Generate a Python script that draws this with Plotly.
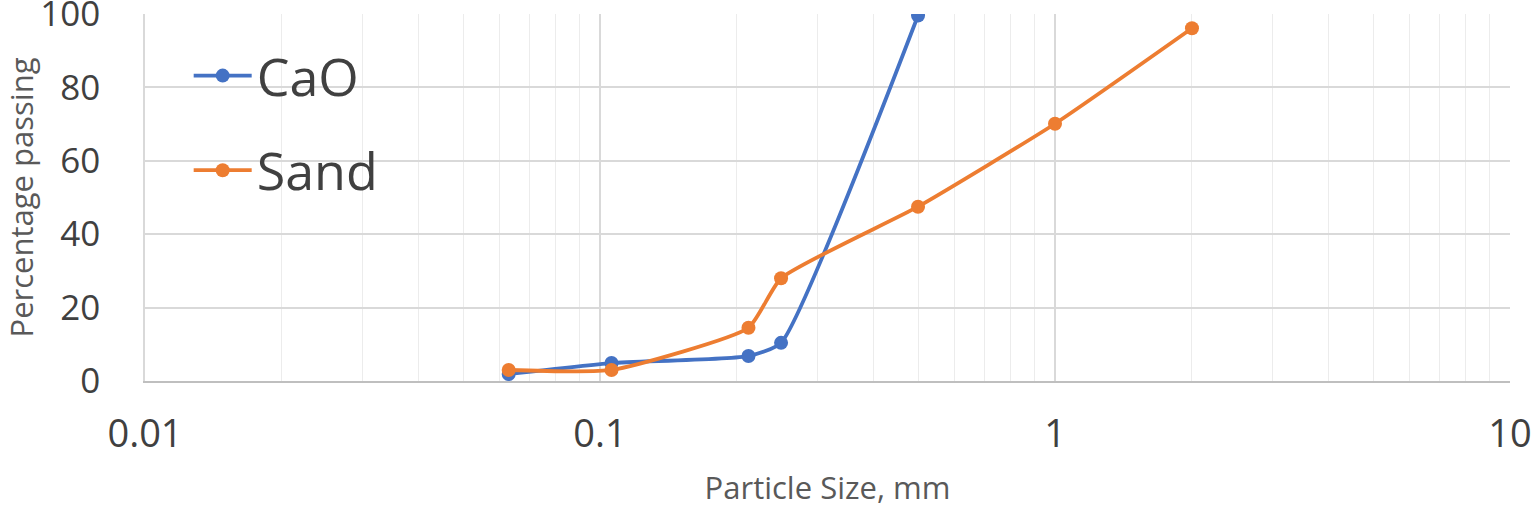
import plotly.graph_objects as go

# Data
cao_size = [0.063, 0.106, 0.212, 0.25, 0.5]
cao_passing = [1.9, 4.9, 6.8, 10.4, 99.6]

sand_size = [0.063, 0.106, 0.212, 0.25, 0.5, 1.0, 2.0]
sand_passing = [3.0, 3.0, 14.5, 28.0, 47.5, 70.1, 96.1]

x_tick_vals = [0.01, 0.1, 1, 10]
x_tick_text = ["0.01", "0.1", "1", "10"]
y_tick_vals = [0, 20, 40, 60, 80, 100]

BLUE = "#4472C4"
ORANGE = "#ED7D31"
FONT = "Open Sans"

fig = go.Figure()
fig.add_trace(go.Scatter(
    x=cao_size, y=cao_passing, name="CaO", mode="lines+markers",
    line=dict(color=BLUE, width=3.8, shape="spline", smoothing=0.5),
    marker=dict(color=BLUE, size=14), legendgroup="a",
))
fig.add_trace(go.Scatter(
    x=sand_size, y=sand_passing, name="Sand", mode="lines+markers",
    line=dict(color=ORANGE, width=3.8, shape="spline", smoothing=0.5),
    marker=dict(color=ORANGE, size=14), legendgroup="b",
))

fig.update_layout(
    width=1533, height=508,
    margin=dict(l=145, r=23, t=14, b=127),
    paper_bgcolor="white", plot_bgcolor="white",
    font=dict(family=FONT, color="#404040"),
    showlegend=True,
    legend=dict(
        x=0.032, y=0.942, xanchor="left", yanchor="top",
        font=dict(size=52, color="#404040", family=FONT),
        bgcolor="rgba(0,0,0,0)", tracegroupgap=24,
        itemwidth=58,
    ),
    xaxis=dict(
        type="log", range=[-2, 1],
        tickvals=x_tick_vals, ticktext=x_tick_text,
        tickfont=dict(size=38, color="#404040"),
        showgrid=True, gridcolor="#d9d9d9", gridwidth=1.5,
        minor=dict(dtick="D1", showgrid=True, gridcolor="#ececec", gridwidth=1, ticks=""),
        showline=True, linecolor="#bfbfbf", linewidth=2,
        ticks="", ticklabelstandoff=18, ticklabeloverflow="allow",
        zeroline=False, automargin=False,
        title=dict(text="Particle Size, mm", font=dict(size=31, color="#595959"), standoff=23),
    ),
    yaxis=dict(
        range=[0, 100], tickvals=y_tick_vals,
        tickfont=dict(size=35, color="#404040"),
        showgrid=True, gridcolor="#d9d9d9", gridwidth=1.5,
        showline=True, linecolor="#d9d9d9", linewidth=1.5,
        ticks="", ticklabelstandoff=36, ticklabeloverflow="allow",
        zeroline=False, automargin=False,
        title=dict(text="Percentage passing", font=dict(size=31, color="#595959"), standoff=47),
    ),
)

fig.write_html("out.html", config={"displayModeBar": False},
               post_script="document.body.style.margin='0';")
